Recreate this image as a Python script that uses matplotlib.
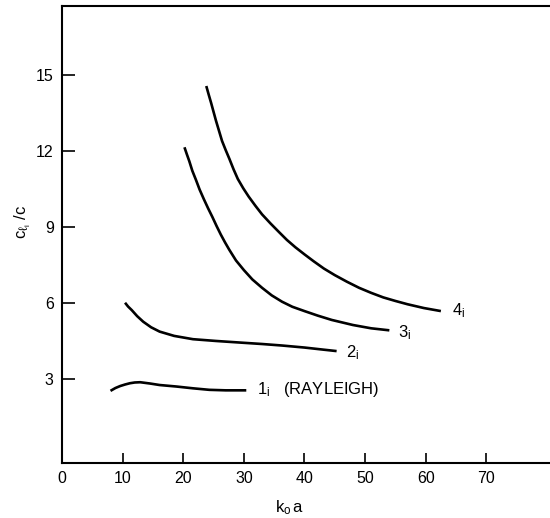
import matplotlib
matplotlib.use("Agg")
import matplotlib.pyplot as plt

# === DATA ===
k1 = [8.0, 8.8, 9.6, 10.4, 11.2, 12.0, 12.9, 14.5, 16.1, 18.9, 21.6, 24.3, 27.0, 30.4]
c1 = [2.53, 2.64, 2.72, 2.78, 2.83, 2.86, 2.87, 2.82, 2.76, 2.70, 2.63, 2.57, 2.55, 2.55]

k2 = [10.4, 10.9, 11.5, 12.4, 13.4, 14.7, 16.1, 18.5, 21.6, 25.4, 29.8, 33.0, 36.3, 40.0, 43.0, 45.3]
c2 = [6.01, 5.86, 5.72, 5.48, 5.26, 5.04, 4.87, 4.70, 4.57, 4.50, 4.43, 4.38, 4.32, 4.24, 4.16, 4.10]

k3 = [20.2, 20.6, 21.0, 21.5, 22.1, 22.7, 23.4, 24.1, 24.8, 25.5, 26.2, 26.9, 27.6, 28.7, 30.0,
      31.4, 33.0, 34.6, 36.3, 38.0, 40.0, 42.2, 44.5, 48.0, 51.0, 54.0]
c3 = [12.15, 11.87, 11.6, 11.22, 10.86, 10.48, 10.1, 9.74, 9.4, 9.04, 8.7, 8.39, 8.1, 7.68, 7.3,
      6.93, 6.6, 6.3, 6.05, 5.85, 5.68, 5.5, 5.33, 5.13, 5.0, 4.92]

k4 = [23.8, 24.2, 24.6, 25.0, 25.4, 25.9, 26.4, 27.0, 27.6, 28.3, 29.0, 29.9, 30.8, 31.9, 33.0,
      34.4, 35.8, 37.1, 38.5, 40.0, 41.5, 43.2, 45.0, 47.0, 49.0, 51.0, 53.0, 55.0, 57.0, 59.7, 62.5]
c4 = [14.57, 14.23, 13.9, 13.55, 13.2, 12.8, 12.4, 12.04, 11.7, 11.28, 10.9, 10.53, 10.2, 9.84, 9.5,
      9.14, 8.8, 8.49, 8.2, 7.92, 7.65, 7.36, 7.1, 6.84, 6.6, 6.4, 6.22, 6.08, 5.95, 5.8, 5.68]

curve_labels = [r"$\mathregular{1_i}$   (RAYLEIGH)", r"$\mathregular{2_i}$",
                r"$\mathregular{3_i}$", r"$\mathregular{4_i}$"]
label_at = [(32.2, 2.57), (46.9, 4.03), (55.4, 4.82), (64.4, 5.70)]

xticks = [0, 10, 20, 30, 40, 50, 60, 70]
yticks = [3, 6, 9, 12, 15]

# === STYLE ===
plt.rcParams["font.family"] = ["Liberation Sans", "DejaVu Sans"]
plt.rcParams["mathtext.fontset"] = "custom"
plt.rcParams["mathtext.rm"] = "Liberation Sans"
plt.rcParams["mathtext.it"] = "Liberation Sans:italic"

fig = plt.figure(figsize=(5.5, 5.18), dpi=100)
ax = fig.add_axes([62 / 550, 1 - 463 / 518, 1 - 62 / 550, (463 - 6) / 518])

for k, c in [(k1, c1), (k2, c2), (k3, c3), (k4, c4)]:
    ax.plot(k, c, color="black", lw=1.9, solid_capstyle="butt", solid_joinstyle="round")

for txt, (x, y) in zip(curve_labels, label_at):
    ax.text(x, y, txt, fontsize=12, va="center", ha="left", color="black")

ax.set_xlim(0.6, 80.5)
ax.set_ylim(-0.32, 17.73)
ax.set_xticks(xticks)
ax.set_yticks(yticks)
ax.tick_params(axis="both", direction="in", labelsize=11.5, width=1.2, pad=6)
ax.tick_params(axis="y", length=9)
ax.tick_params(axis="x", length=7)

ax.spines["right"].set_visible(False)
for s in ["left", "bottom", "top"]:
    ax.spines[s].set_linewidth(1.5)

ax.set_xlabel(r"$\mathregular{k_o\,a}$", fontsize=12)
ax.xaxis.set_label_coords((290 - 62) / 488, -(498 - 463) / 457)
ax.set_ylabel(r"$\mathregular{c_{\ell_i}\ /c}$", fontsize=12)
ax.yaxis.set_label_coords(-(62 - 33) / 488, (463 - 222) / 457)

fig.savefig("out.png", dpi=100)
